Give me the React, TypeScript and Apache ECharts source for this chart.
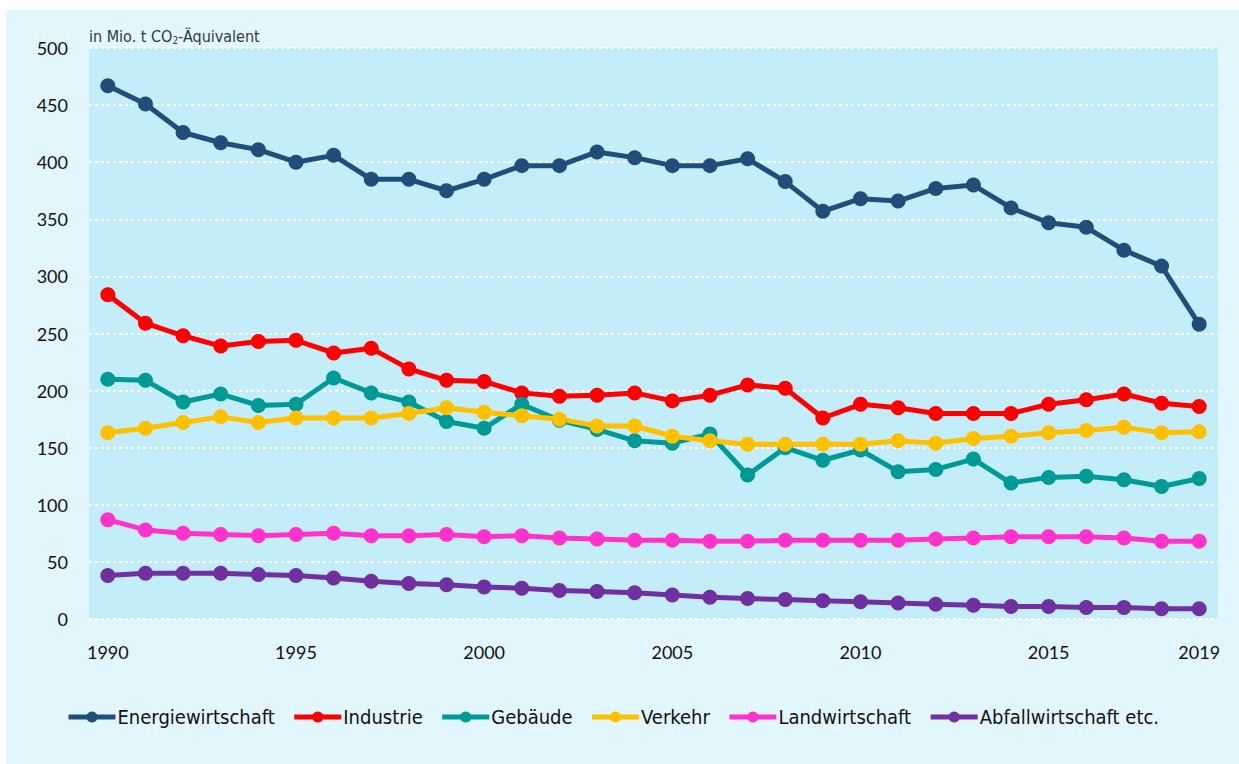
import React, { useEffect, useRef } from "react";
import * as echarts from "echarts";

const years = Array.from({ length: 30 }, (_, i) => String(1990 + i));

const energiewirtschaft = [467, 451, 426, 417, 411, 400, 406, 385, 385, 375, 385, 397, 397, 409, 404, 397, 397, 403, 383, 357, 368, 366, 377, 380, 360, 347, 343, 323, 309, 258];
const industrie = [284, 259, 248, 239, 243, 244, 233, 237, 219, 209, 208, 198, 195, 196, 198, 191, 196, 205, 202, 176, 188, 185, 180, 180, 180, 188, 192, 197, 189, 186];
const gebaeude = [210, 209, 190, 197, 187, 188, 211, 198, 190, 173, 167, 188, 174, 166, 156, 154, 162, 126, 150, 139, 148, 129, 131, 140, 119, 124, 125, 122, 116, 123];
const verkehr = [163, 167, 172, 177, 172, 176, 176, 176, 180, 185, 181, 178, 175, 169, 169, 160, 156, 153, 153, 153, 153, 156, 154, 158, 160, 163, 165, 168, 163, 164];
const landwirtschaft = [87, 78, 75, 74, 73, 74, 75, 73, 73, 74, 72, 73, 71, 70, 69, 69, 68, 68, 69, 69, 69, 69, 70, 71, 72, 72, 72, 71, 68, 68];
const abfall = [38, 40, 40, 40, 39, 38, 36, 33, 31, 30, 28, 27, 25, 24, 23, 21, 19, 18, 17, 16, 15, 14, 13, 12, 11, 11, 10, 10, 9, 9];

const seriesNames = ["Energiewirtschaft", "Industrie", "Gebäude", "Verkehr", "Landwirtschaft", "Abfallwirtschaft etc."];
const seriesColors = ["#1f4e79", "#ff0000", "#009a96", "#ffc000", "#ff33cc", "#7030a0"];
const seriesData = [energiewirtschaft, industrie, gebaeude, verkehr, landwirtschaft, abfall];

const labelFont = "Lato, 'Open Sans', sans-serif";
const narrowFont = "'Liberation Sans Narrow', 'DejaVu Sans Condensed', sans-serif";

export default function App() {
  const ref = useRef<HTMLDivElement>(null);
  useEffect(() => {
    if (!ref.current) return;
    const chart = echarts.init(ref.current, null, { renderer: "svg" });
    chart.setOption({
      animation: false,
      backgroundColor: "#ffffff",
      graphic: [
        {
          type: "rect",
          z: -10,
          silent: true,
          shape: { x: 6, y: 10, width: 1233, height: 754 },
          style: { fill: "#e2f6fe" },
        },
        {
          type: "text",
          left: 89,
          top: 28,
          z: 10,
          style: {
            text: "{a|in Mio. t CO}{s|2}{a|-Äquivalent}",
            rich: {
              a: { fontFamily: narrowFont, fontSize: 16, fill: "#333a44" },
              s: { fontFamily: narrowFont, fontSize: 10, fill: "#333a44", padding: [9, 0, 0, 0] },
            },
          },
        },
      ],
      grid: {
        left: 89,
        right: 21,
        top: 48,
        bottom: 145,
        show: true,
        backgroundColor: "#c4edfa",
        borderWidth: 0,
      },
      legend: {
        left: 61,
        top: 702,
        itemWidth: 47,
        itemHeight: 14,
        itemGap: 17,
        lineStyle: { width: 5 },
        textStyle: { fontFamily: narrowFont, fontSize: 20, color: "#111111", padding: [0, 0, 0, -3] },
        data: seriesNames,
      },
      xAxis: {
        type: "category",
        data: years,
        boundaryGap: true,
        axisLine: { show: false },
        axisTick: { show: false },
        axisLabel: {
          interval: (i: number) => i % 5 === 0 || i === 29,
          fontFamily: labelFont,
          fontSize: 18,
          color: "#111111",
          margin: 24,
        },
      },
      yAxis: {
        type: "value",
        min: 0,
        max: 500,
        interval: 50,
        axisLine: { show: false },
        axisTick: { show: false },
        axisLabel: { fontFamily: labelFont, fontSize: 18, color: "#111111", margin: 21 },
        splitLine: { lineStyle: { color: "#ffffff", width: 2, type: [3, 3] } },
      },
      series: seriesNames.map((name, i) => ({
        name,
        type: "line",
        data: seriesData[i],
        color: seriesColors[i],
        symbol: "circle",
        symbolSize: 15,
        lineStyle: { width: 5, color: seriesColors[i] },
        itemStyle: { color: seriesColors[i] },
      })),
    });
    return () => chart.dispose();
  }, []);
  return <div ref={ref} style={{ position: "absolute", left: 0, top: 0, width: 1239, height: 764 }} />;
}
